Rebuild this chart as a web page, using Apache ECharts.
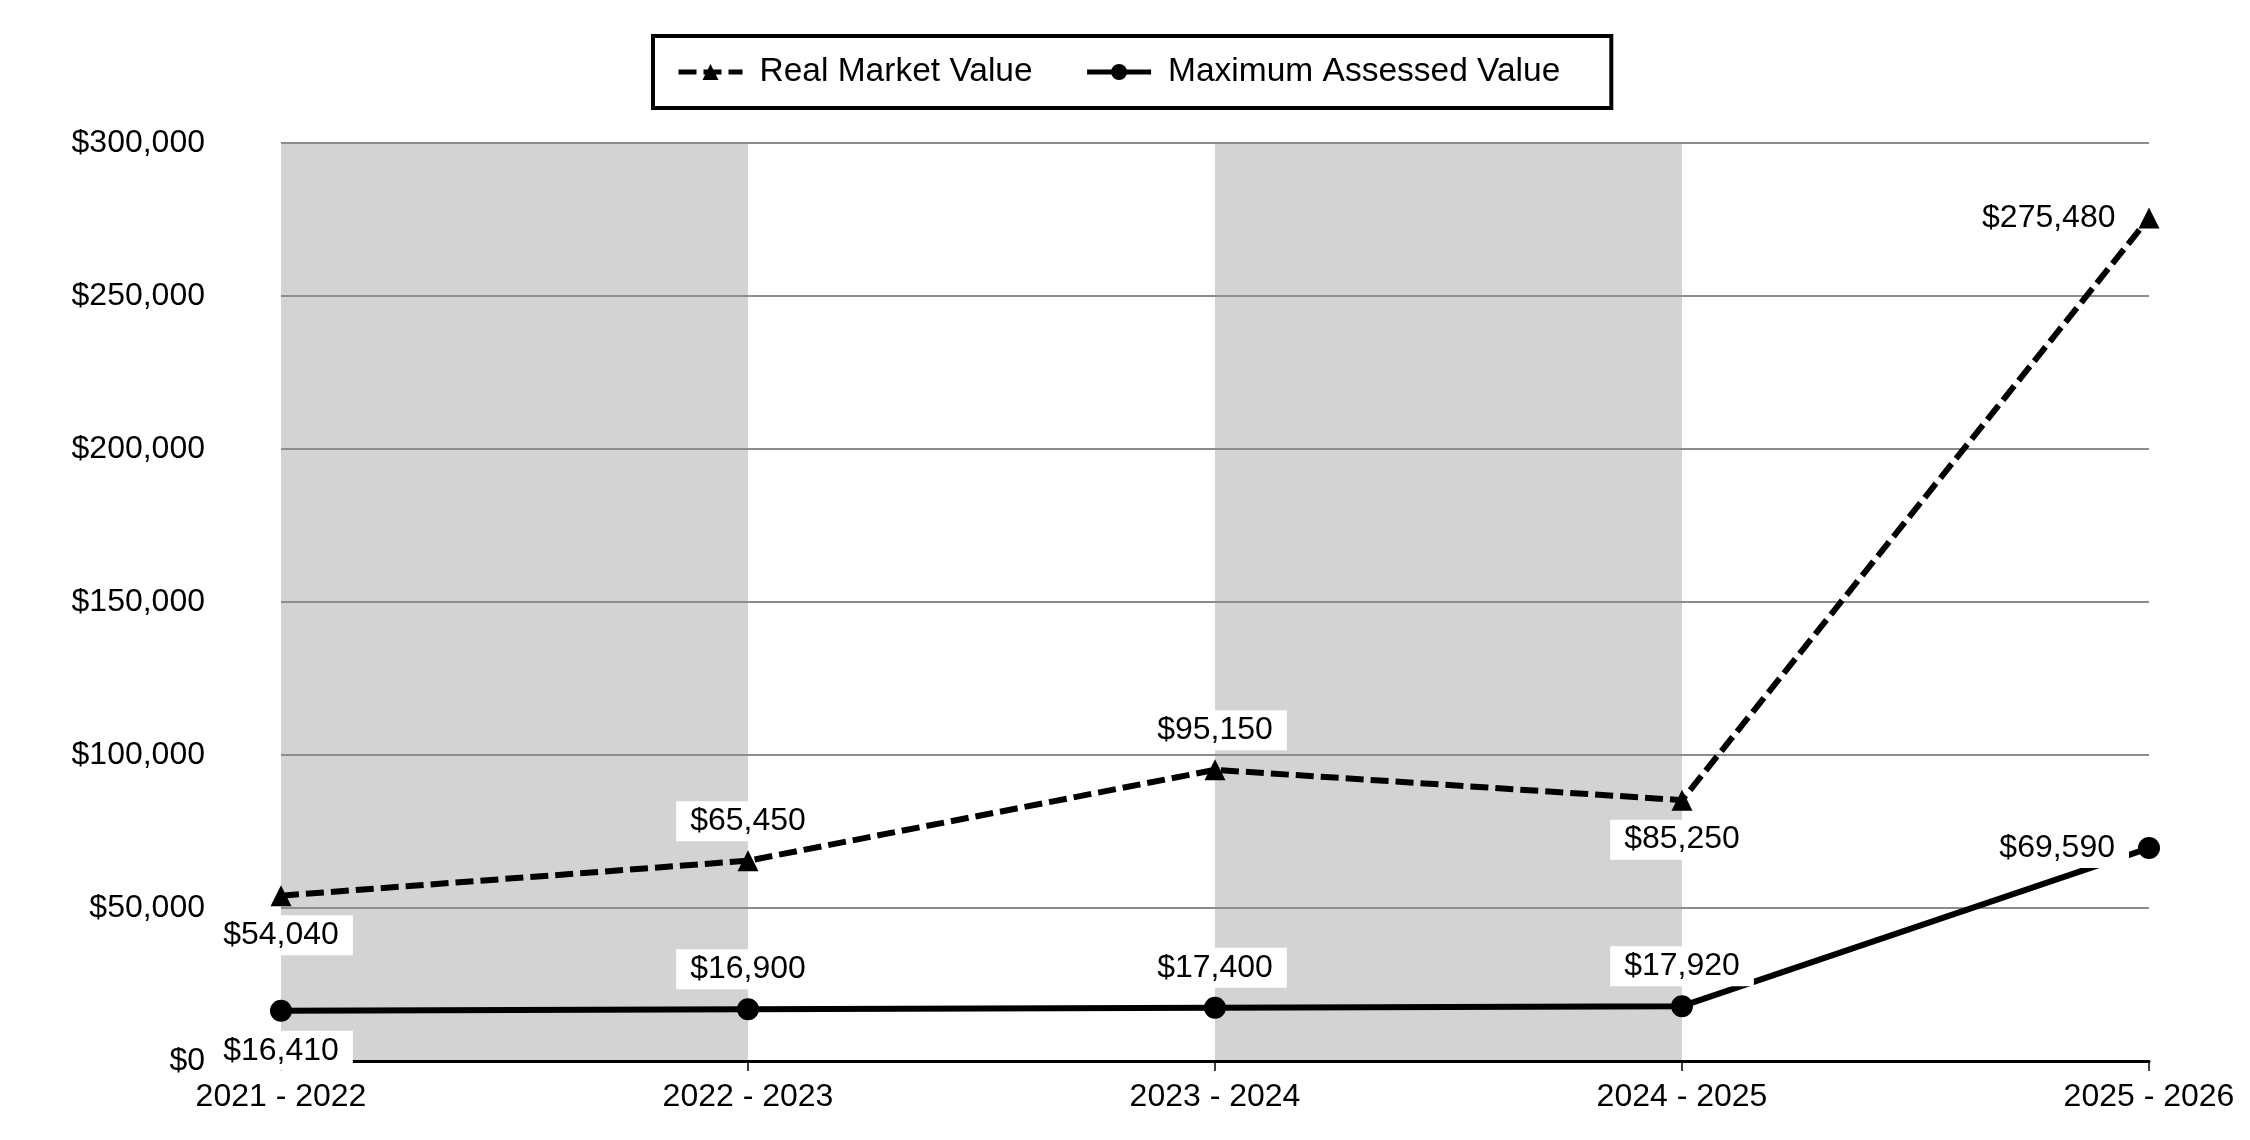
<!DOCTYPE html>
<html>
<head>
<meta charset="utf-8">
<script src="https://cdn.jsdelivr.net/npm/echarts@6/dist/echarts.min.js"></script>
<style>
html,body{margin:0;padding:0;background:#fff;}
#chart{width:2250px;height:1140px;}
</style>
</head>
<body>
<div id="chart"></div>
<script>
const categories = ['2021 - 2022', '2022 - 2023', '2023 - 2024', '2024 - 2025', '2025 - 2026'];
const realMarketValue = [54040, 65450, 95150, 85250, 275480];
const maxAssessedValue = [16410, 16900, 17400, 17920, 69590];
const yTicks = [0, 50000, 100000, 150000, 200000, 250000, 300000];

const rmvLabelPos = ['bottom', 'top', 'top', 'bottom', 'left'];
const mavLabelPos = ['bottom', 'top', 'top', 'top', 'left'];

const FONT = "'Liberation Sans', Arial, sans-serif";
const money = v => '$' + Number(v).toLocaleString('en-US');

const labelBase = {
  show: true,
  color: '#000',
  fontFamily: FONT,
  fontSize: 32,
  backgroundColor: '#ffffff',
  padding: [4, 14, 4, 14],
  distance: 9,
  formatter: p => money(p.value)
};

function buildData(values, positions) {
  return values.map((v, i) => ({ value: v, label: { position: positions[i] } }));
}

const chart = echarts.init(document.getElementById('chart'));
chart.setOption({
  backgroundColor: '#ffffff',
  animation: false,
  legend: {
    top: 36,
    left: 653,
    borderColor: '#000',
    borderWidth: 4,
    padding: [19, 51, 19, 23],
    itemGap: 52,
    itemWidth: 64,
    itemHeight: 20,
    lineStyle: { width: 5 },
    textStyle: { fontFamily: FONT, fontSize: 33.5, color: '#000', padding: [0, 0, 0, 12] },
    data: ['Real Market Value', 'Maximum Assessed Value']
  },
  grid: { left: 281, right: 101, top: 143, bottom: 79 },
  xAxis: {
    type: 'category',
    data: categories,
    boundaryGap: false,
    z: 0,
    axisLine: { lineStyle: { color: '#000', width: 3 } },
    axisTick: { show: true, length: 10, lineStyle: { color: '#000', width: 1.5 } },
    axisLabel: { color: '#000', fontFamily: FONT, fontSize: 32, margin: 20 },
    splitLine: { show: false },
    splitArea: { show: true, areaStyle: { color: ['#d3d3d3', 'rgba(255,255,255,0)'] } }
  },
  yAxis: {
    type: 'value',
    min: yTicks[0],
    max: yTicks[yTicks.length - 1],
    interval: yTicks[1] - yTicks[0],
    z: 1,
    axisLine: { show: false },
    axisTick: { show: false },
    axisLabel: { color: '#000', fontFamily: FONT, fontSize: 32, margin: 76, formatter: v => money(v) },
    splitLine: { show: true, showMinLine: false, lineStyle: { color: '#8c8c8c', width: 2 } }
  },
  series: [
    {
      name: 'Real Market Value',
      type: 'line',
      data: buildData(realMarketValue, rmvLabelPos),
      symbol: 'triangle',
      symbolSize: 21,
      itemStyle: { color: '#000' },
      lineStyle: { color: '#000', width: 6, type: [18, 7] },
      label: labelBase,
      z: 3
    },
    {
      name: 'Maximum Assessed Value',
      type: 'line',
      data: buildData(maxAssessedValue, mavLabelPos),
      symbol: 'circle',
      symbolSize: 22,
      itemStyle: { color: '#000' },
      lineStyle: { color: '#000', width: 6, type: 'solid' },
      label: labelBase,
      z: 3
    }
  ]
});
</script>
</body>
</html>
